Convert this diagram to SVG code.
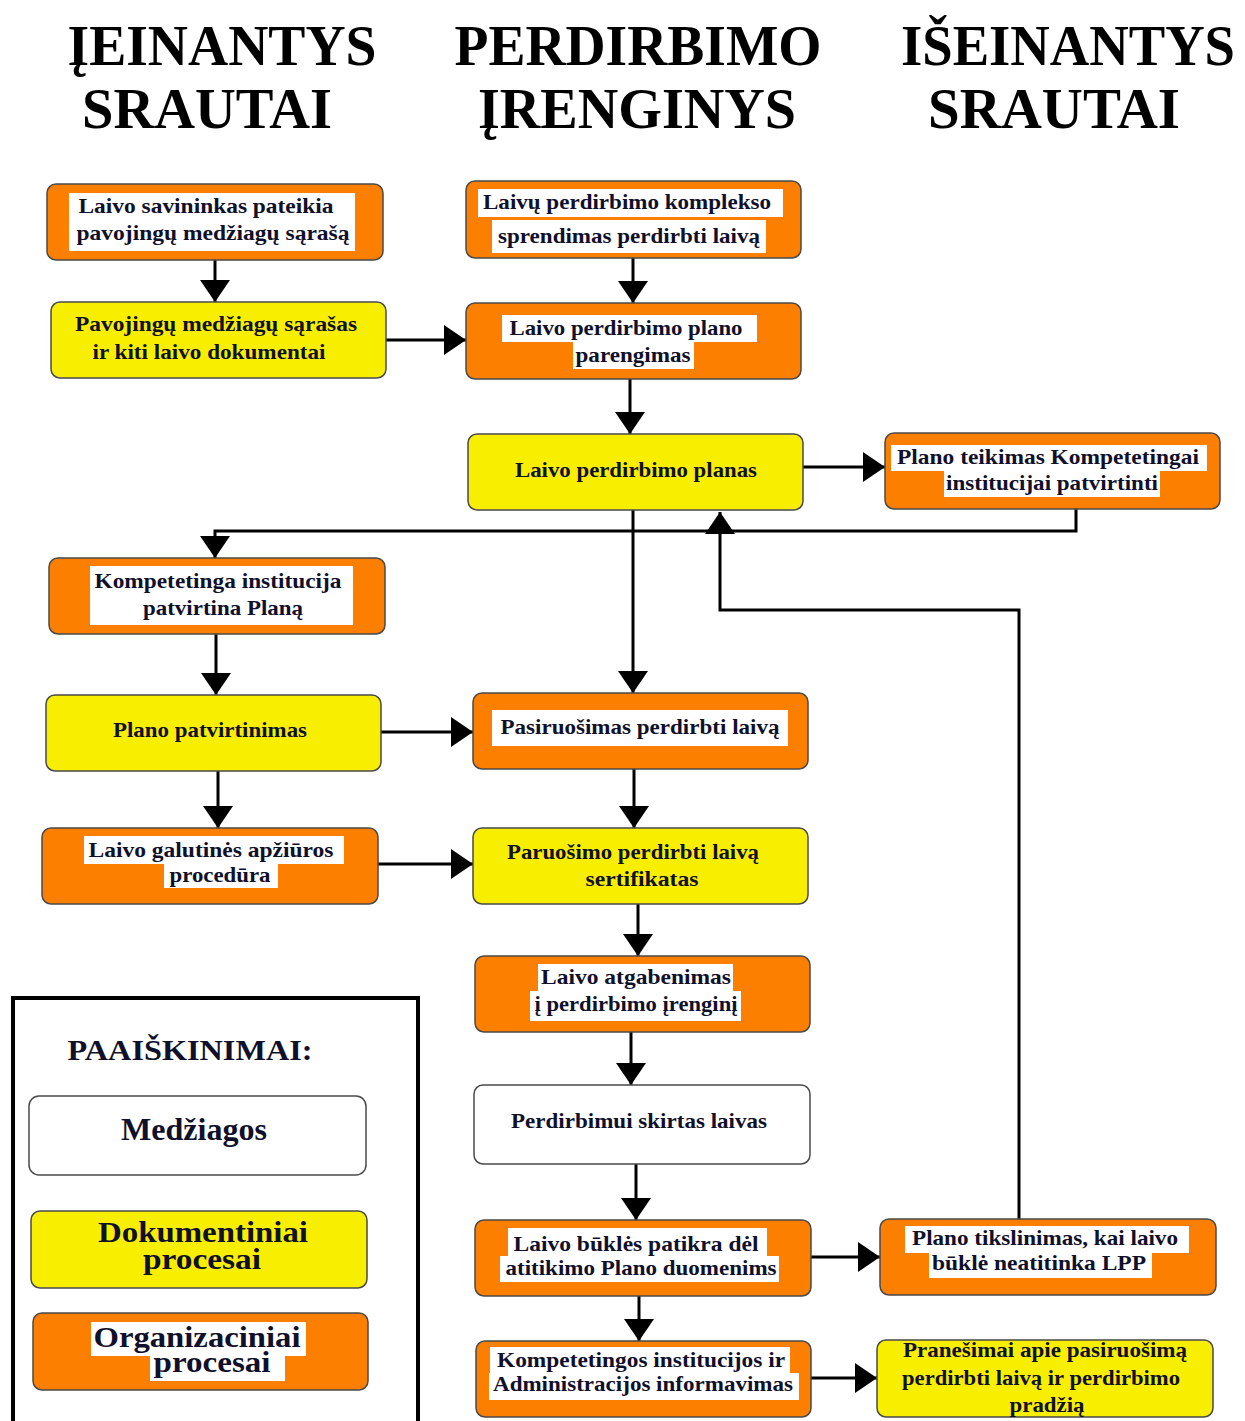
<svg xmlns="http://www.w3.org/2000/svg" width="1245" height="1421" viewBox="0 0 1245 1421">
<style>
text{font-family:"Liberation Serif","Times New Roman",serif;font-weight:bold;fill:#10102a;text-anchor:middle}
.h{font-size:58px;fill:#000}
.t{font-size:21px}
.or{fill:#fd7f00;stroke:#4a4a4a;stroke-width:1.5}
.ye{fill:#f8ef00;stroke:#4a4a4a;stroke-width:1.5}
.wh{fill:#fff;stroke:#4a4a4a;stroke-width:1.5}
.hl{fill:#fff}
.c{fill:none;stroke:#000;stroke-width:3;marker-end:url(#ah)}
</style>
<defs>
<marker id="ah" viewBox="0 0 22 30" refX="22" refY="15" markerWidth="22" markerHeight="30" orient="auto" markerUnits="userSpaceOnUse">
<path d="M0,0 L22,15 L0,30 Z" fill="#000"/>
</marker>
</defs>
<rect width="1245" height="1421" fill="#fff"/>

<g id="headers">
<text class="h" x="222" y="65" textLength="309" lengthAdjust="spacingAndGlyphs">ĮEINANTYS</text>
<text class="h" x="207" y="128" textLength="250" lengthAdjust="spacingAndGlyphs">SRAUTAI</text>
<text class="h" x="638" y="65" textLength="367" lengthAdjust="spacingAndGlyphs">PERDIRBIMO</text>
<text class="h" x="637" y="128" textLength="318" lengthAdjust="spacingAndGlyphs">ĮRENGINYS</text>
<text class="h" x="1068" y="65" textLength="334" lengthAdjust="spacingAndGlyphs">IŠEINANTYS</text>
<text class="h" x="1054" y="128" textLength="252" lengthAdjust="spacingAndGlyphs">SRAUTAI</text>
</g>

<g id="connectors">
<path class="c" d="M215,260 V302"/>
<path class="c" d="M386,340 H466"/>
<path class="c" d="M633,258 V303"/>
<path class="c" d="M630,379 V434"/>
<path class="c" d="M803,467 H885"/>
<path class="c" d="M1076,509 V531 H215 V558"/>
<path class="c" d="M1019,1219 V610 H720 V512"/>
<path class="c" d="M633,510 V693"/>
<path class="c" d="M216,634 V695"/>
<path class="c" d="M381,732 H473"/>
<path class="c" d="M218,771 V828"/>
<path class="c" d="M378,864 H473"/>
<path class="c" d="M634,769 V828"/>
<path class="c" d="M638,904 V956"/>
<path class="c" d="M631,1032 V1085"/>
<path class="c" d="M636,1164 V1220"/>
<path class="c" d="M811,1257 H880"/>
<path class="c" d="M639,1296 V1341"/>
<path class="c" d="M811,1378 H877"/>
</g>

<g id="n1">
<rect class="or" x="47" y="184" width="336" height="76" rx="9"/>
<rect class="hl" x="69" y="193" width="286" height="58"/>
<text class="t" x="206" y="213" textLength="255" lengthAdjust="spacingAndGlyphs">Laivo savininkas pateikia</text>
<text class="t" x="213" y="240" textLength="273" lengthAdjust="spacingAndGlyphs">pavojingų medžiagų sąrašą</text>
</g>
<g id="n2">
<rect class="ye" x="51" y="302" width="335" height="76" rx="9"/>
<text class="t" x="216" y="331" textLength="282" lengthAdjust="spacingAndGlyphs">Pavojingų medžiagų sąrašas</text>
<text class="t" x="209" y="359" textLength="233" lengthAdjust="spacingAndGlyphs">ir kiti laivo dokumentai</text>
</g>
<g id="n3">
<rect class="or" x="466" y="181" width="335" height="77" rx="9"/>
<rect class="hl" x="478" y="189" width="305" height="28"/>
<rect class="hl" x="492" y="220" width="274" height="33"/>
<text class="t" x="627" y="209" textLength="288" lengthAdjust="spacingAndGlyphs">Laivų perdirbimo komplekso</text>
<text class="t" x="629" y="243" textLength="262" lengthAdjust="spacingAndGlyphs">sprendimas perdirbti laivą</text>
</g>
<g id="n4">
<rect class="or" x="466" y="303" width="335" height="76" rx="9"/>
<rect class="hl" x="502" y="315" width="255" height="27"/>
<rect class="hl" x="573" y="342" width="121" height="27"/>
<text class="t" x="626" y="335" textLength="233" lengthAdjust="spacingAndGlyphs">Laivo perdirbimo plano</text>
<text class="t" x="633" y="362" textLength="115" lengthAdjust="spacingAndGlyphs">parengimas</text>
</g>
<g id="n5">
<rect class="ye" x="468" y="434" width="335" height="76" rx="9"/>
<text class="t" x="636" y="477" textLength="242" lengthAdjust="spacingAndGlyphs">Laivo perdirbimo planas</text>
</g>
<g id="n6">
<rect class="or" x="885" y="433" width="335" height="76" rx="9"/>
<rect class="hl" x="891" y="445" width="316" height="26"/>
<rect class="hl" x="944" y="471" width="216" height="26"/>
<text class="t" x="1048" y="464" textLength="302" lengthAdjust="spacingAndGlyphs">Plano teikimas Kompetetingai</text>
<text class="t" x="1052" y="490" textLength="212" lengthAdjust="spacingAndGlyphs">institucijai patvirtinti</text>
</g>
<g id="n7">
<rect class="or" x="49" y="558" width="336" height="76" rx="9"/>
<rect class="hl" x="90" y="566" width="263" height="59"/>
<text class="t" x="218" y="588" textLength="247" lengthAdjust="spacingAndGlyphs">Kompetetinga institucija</text>
<text class="t" x="223" y="615" textLength="160" lengthAdjust="spacingAndGlyphs">patvirtina Planą</text>
</g>
<g id="n8">
<rect class="ye" x="46" y="695" width="335" height="76" rx="9"/>
<text class="t" x="210" y="737" textLength="194" lengthAdjust="spacingAndGlyphs">Plano patvirtinimas</text>
</g>
<g id="n9">
<rect class="or" x="42" y="828" width="336" height="76" rx="9"/>
<rect class="hl" x="84" y="836" width="260" height="28"/>
<rect class="hl" x="164" y="864" width="114" height="24"/>
<text class="t" x="211" y="857" textLength="245" lengthAdjust="spacingAndGlyphs">Laivo galutinės apžiūros</text>
<text class="t" x="220" y="882" textLength="101" lengthAdjust="spacingAndGlyphs">procedūra</text>
</g>
<g id="n10">
<rect class="or" x="473" y="693" width="335" height="76" rx="9"/>
<rect class="hl" x="492" y="710" width="296" height="36"/>
<text class="t" x="640" y="734" textLength="279" lengthAdjust="spacingAndGlyphs">Pasiruošimas perdirbti laivą</text>
</g>
<g id="n11">
<rect class="ye" x="473" y="828" width="335" height="76" rx="9"/>
<text class="t" x="633" y="859" textLength="252" lengthAdjust="spacingAndGlyphs">Paruošimo perdirbti laivą</text>
<text class="t" x="642" y="886" textLength="113" lengthAdjust="spacingAndGlyphs">sertifikatas</text>
</g>
<g id="n12">
<rect class="or" x="475" y="956" width="335" height="76" rx="9"/>
<rect class="hl" x="538" y="964" width="195" height="27"/>
<rect class="hl" x="530" y="991" width="211" height="30"/>
<text class="t" x="636" y="984" textLength="190" lengthAdjust="spacingAndGlyphs">Laivo atgabenimas</text>
<text class="t" x="636" y="1011" textLength="203" lengthAdjust="spacingAndGlyphs">į perdirbimo įrenginį</text>
</g>
<g id="n13">
<rect class="wh" x="474" y="1085" width="336" height="79" rx="9"/>
<text class="t" x="639" y="1128" textLength="256" lengthAdjust="spacingAndGlyphs">Perdirbimui skirtas laivas</text>
</g>
<g id="n14">
<rect class="or" x="475" y="1220" width="336" height="76" rx="9"/>
<rect class="hl" x="508" y="1228" width="259" height="28"/>
<rect class="hl" x="500" y="1256" width="279" height="26"/>
<text class="t" x="636" y="1251" textLength="245" lengthAdjust="spacingAndGlyphs">Laivo būklės patikra dėl</text>
<text class="t" x="641" y="1275" textLength="271" lengthAdjust="spacingAndGlyphs">atitikimo Plano duomenims</text>
</g>
<g id="n15">
<rect class="or" x="880" y="1219" width="336" height="76" rx="9"/>
<rect class="hl" x="905" y="1226" width="284" height="27"/>
<rect class="hl" x="929" y="1253" width="223" height="25"/>
<text class="t" x="1045" y="1245" textLength="266" lengthAdjust="spacingAndGlyphs">Plano tikslinimas, kai laivo</text>
<text class="t" x="1039" y="1270" textLength="214" lengthAdjust="spacingAndGlyphs">būklė neatitinka LPP</text>
</g>
<g id="n16">
<rect class="or" x="476" y="1341" width="335" height="76" rx="9"/>
<rect class="hl" x="490" y="1347" width="300" height="26"/>
<rect class="hl" x="489" y="1373" width="310" height="27"/>
<text class="t" x="641" y="1367" textLength="288" lengthAdjust="spacingAndGlyphs">Kompetetingos institucijos ir</text>
<text class="t" x="643" y="1391" textLength="300" lengthAdjust="spacingAndGlyphs">Administracijos informavimas</text>
</g>
<g id="n17">
<rect class="ye" x="877" y="1340" width="336" height="77" rx="9"/>
<text class="t" x="1045" y="1357" textLength="284" lengthAdjust="spacingAndGlyphs">Pranešimai apie pasiruošimą</text>
<text class="t" x="1041" y="1385" textLength="278" lengthAdjust="spacingAndGlyphs">perdirbti laivą ir perdirbimo</text>
<text class="t" x="1047" y="1412" textLength="75" lengthAdjust="spacingAndGlyphs">pradžią</text>
</g>

<g id="legend">
<rect x="13" y="998" width="405" height="430" fill="#fff" stroke="#000" stroke-width="4"/>
<text x="190" y="1060" style="font-size:29px" textLength="245" lengthAdjust="spacingAndGlyphs">PAAIŠKINIMAI:</text>
<rect class="wh" x="29" y="1096" width="337" height="79" rx="10"/>
<text x="194" y="1140" style="font-size:31px" textLength="146" lengthAdjust="spacingAndGlyphs">Medžiagos</text>
<rect class="ye" x="31" y="1211" width="336" height="77" rx="9"/>
<text x="203" y="1242" style="font-size:30px" textLength="210" lengthAdjust="spacingAndGlyphs">Dokumentiniai</text>
<text x="202" y="1269" style="font-size:30px" textLength="118" lengthAdjust="spacingAndGlyphs">procesai</text>
<rect class="or" x="33" y="1313" width="335" height="77" rx="9"/>
<rect class="hl" x="91" y="1322" width="215" height="34"/>
<rect class="hl" x="150" y="1356" width="135" height="25"/>
<text x="197" y="1347" style="font-size:30px" textLength="207" lengthAdjust="spacingAndGlyphs">Organizaciniai</text>
<text x="212" y="1372" style="font-size:30px" textLength="117" lengthAdjust="spacingAndGlyphs">procesai</text>
</g>
</svg>
